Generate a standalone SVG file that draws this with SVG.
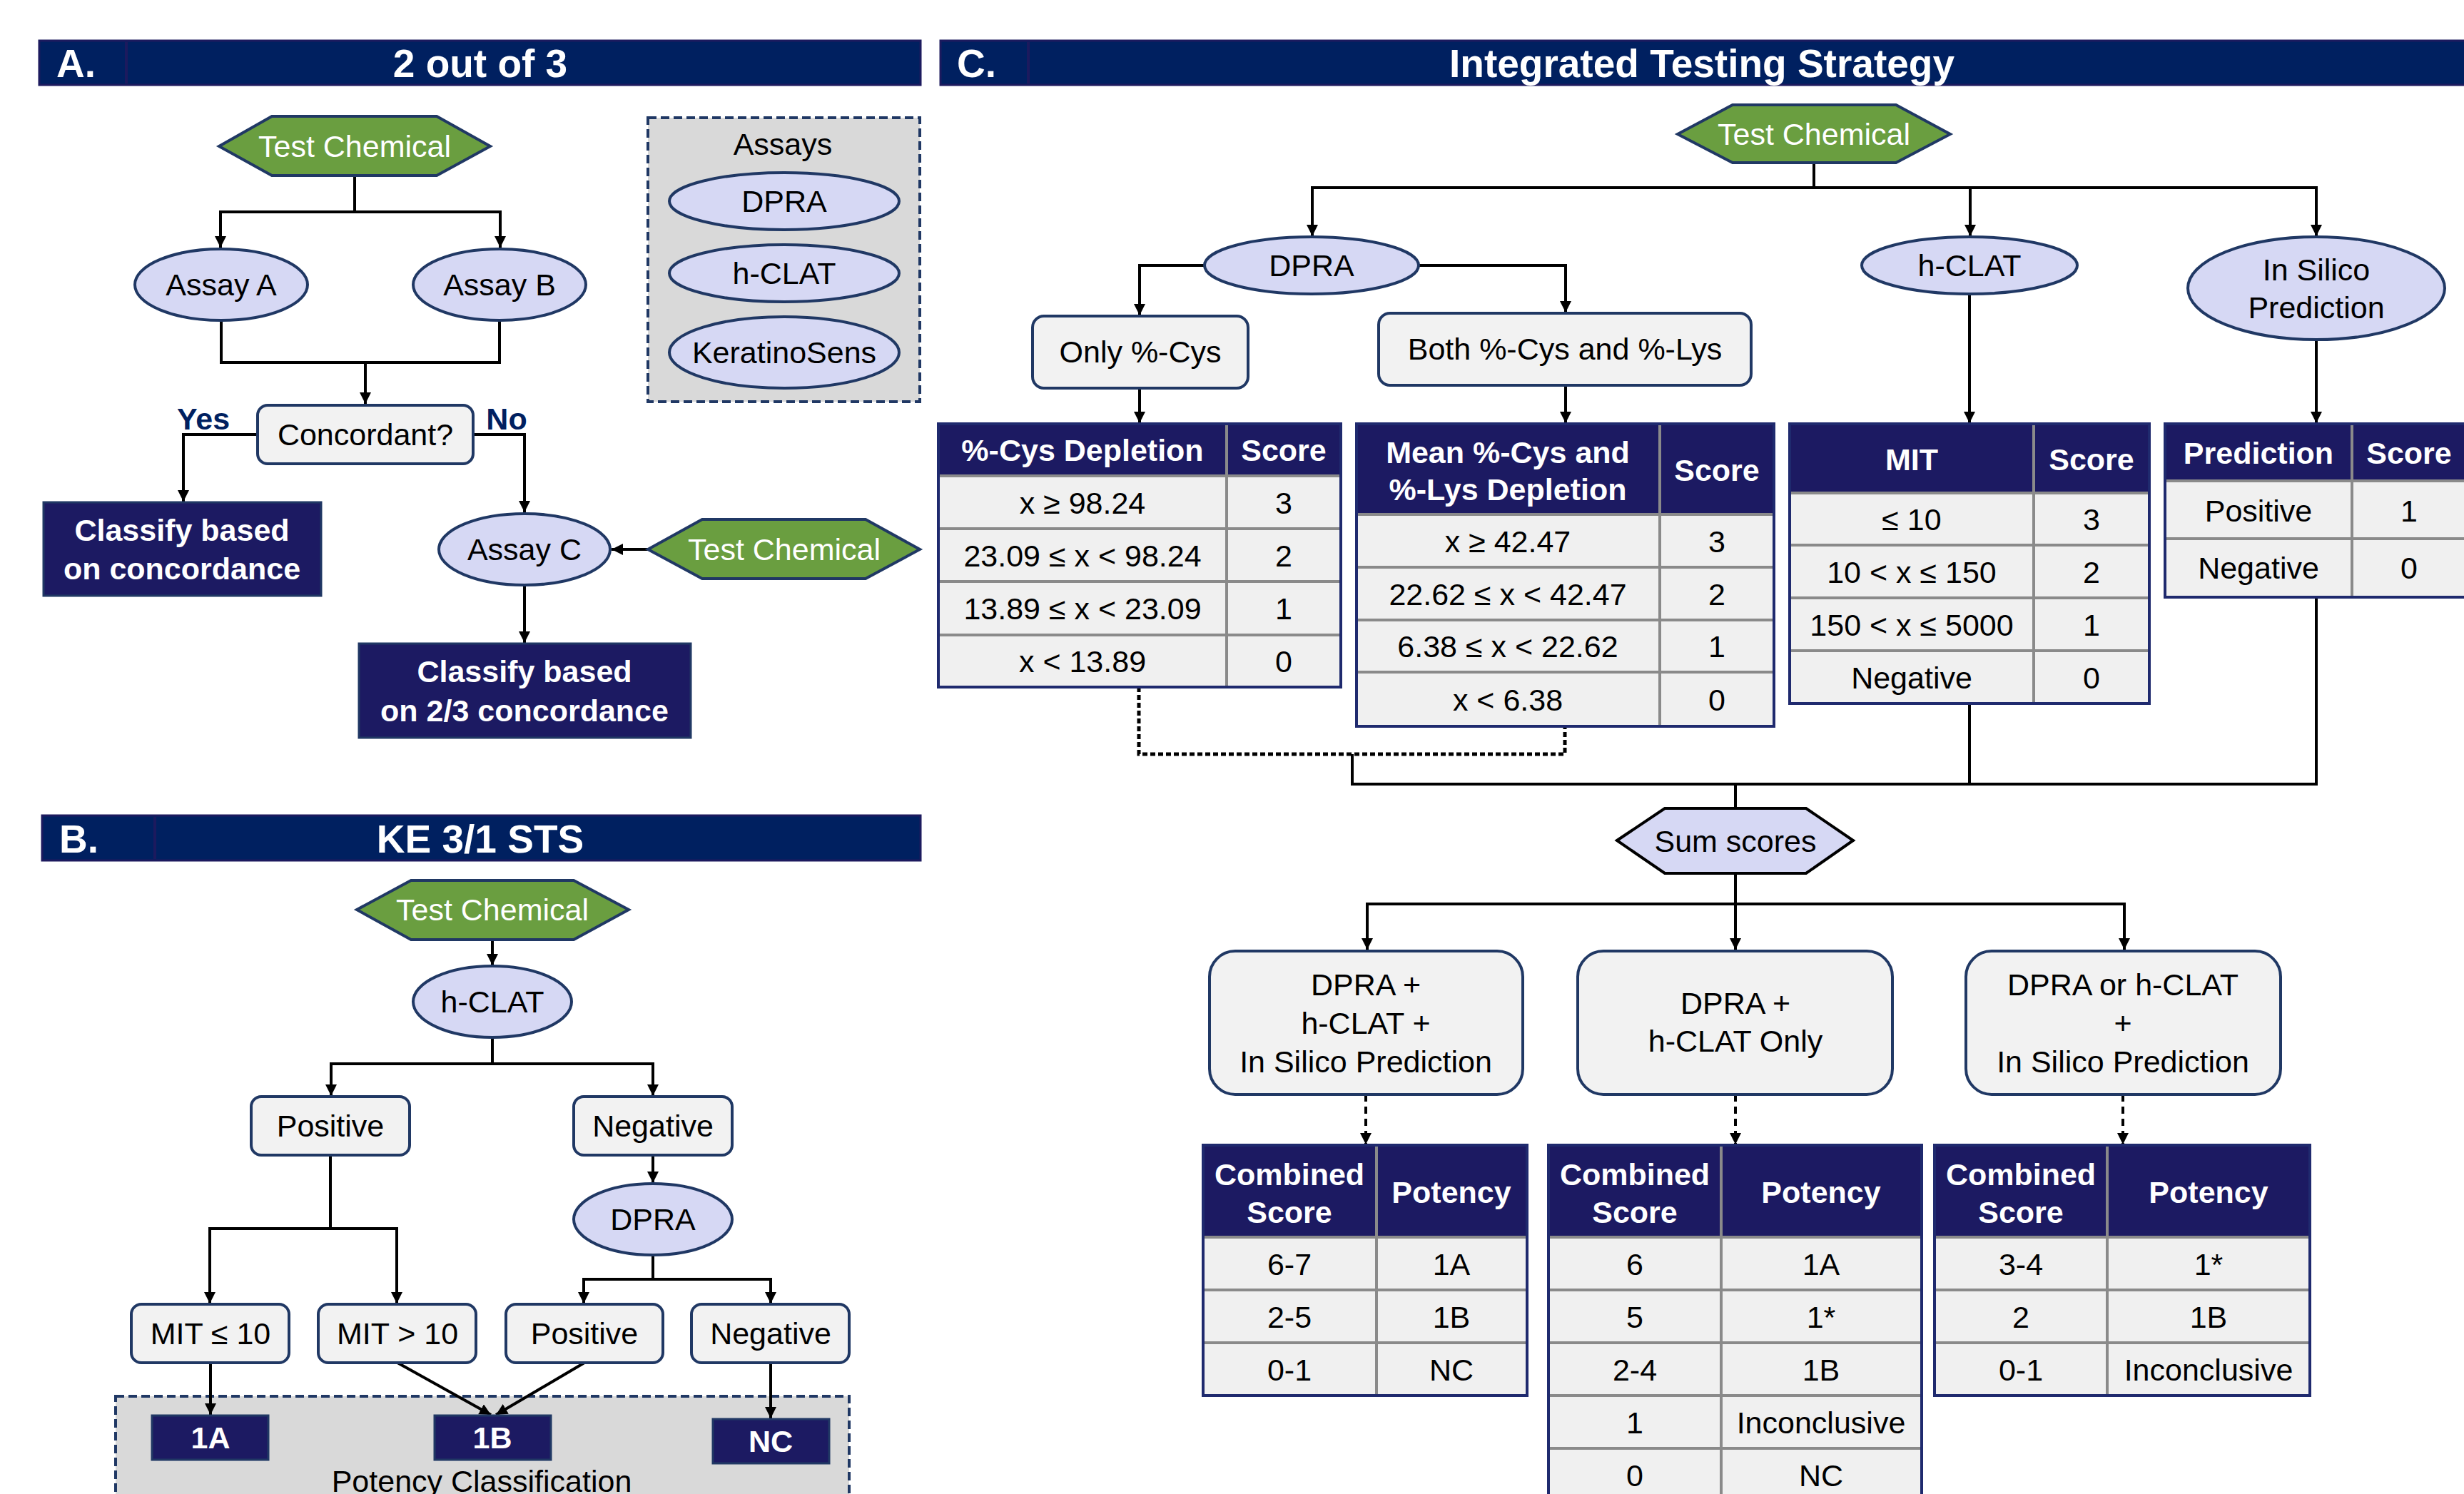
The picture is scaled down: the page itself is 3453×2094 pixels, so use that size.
<svg xmlns="http://www.w3.org/2000/svg" width="3453" height="2094" viewBox="0 0 3453 2094">
<defs>
<marker id="ah" markerUnits="userSpaceOnUse" markerWidth="18" markerHeight="18" refX="16" refY="8" orient="auto"><path d="M0,0 L16,8 L0,16 z" fill="#000"/></marker>
<style>
text{font-family:"Liberation Sans",Arial,sans-serif;font-size:43px;text-anchor:middle;fill:#000}
.w{fill:#fff}
.b{font-weight:bold}
.hd{font-size:55px;font-weight:bold;fill:#fff}
.lbl{text-anchor:start}
.yn{font-weight:bold;fill:#002060}
.bar{fill:#002060;stroke:#1c1a5e;stroke-width:3}
.sep{stroke:#1c1a5e;stroke-width:4}
.hex{fill:#6a9e40;stroke:#203864;stroke-width:4}
.hexs{fill:#d6d8f4;stroke:#000;stroke-width:4}
.ell{fill:#d6d8f4;stroke:#203864;stroke-width:4}
.box{fill:#f2f2f2;stroke:#203864;stroke-width:4}
.dark{fill:#1c1a62;stroke:#203864;stroke-width:3}
.cont{fill:#d9d9d9;stroke:#203864;stroke-width:4;stroke-dasharray:12 6}
.ln{fill:none;stroke:#000;stroke-width:4}
.ar{marker-end:url(#ah)}
.dot{stroke-width:5;stroke-dasharray:7 4}
.dsh{stroke-dasharray:10 7}
.tb{fill:#f0f0f0}
.th{fill:#1c1a62}
.grid{fill:none;stroke:#8a8a8a;stroke-width:4}
.tbord{fill:none;stroke:#1f2a6e;stroke-width:4}
</style>
</defs>
<rect width="3453" height="2094" fill="#fff"/>

<!-- Headers -->
<g id="header-A"><rect class="bar" x="55" y="57" width="1235" height="62"/><line class="sep" x1="177" y1="59" x2="177" y2="117"/><text class="hd lbl" x="79" y="108">A.</text><text class="hd" x="673" y="108">2 out of 3</text></g>
<g id="header-B"><rect class="bar" x="59" y="1143" width="1231" height="63"/><line class="sep" x1="217" y1="1145" x2="217" y2="1204"/><text class="hd lbl" x="83" y="1195">B.</text><text class="hd" x="673" y="1195">KE 3/1 STS</text></g>
<g id="header-C"><rect class="bar" x="1318" y="57" width="2145" height="62"/><line class="sep" x1="1441" y1="59" x2="1441" y2="117"/><text class="hd lbl" x="1341" y="108">C.</text><text class="hd" x="2385" y="108">Integrated Testing Strategy</text></g>

<!-- Containers -->
<g id="assays-legend">
<rect class="cont" x="908" y="165" width="381" height="398"/>
<text x="1097" y="217">Assays</text>
<ellipse class="ell" cx="1099" cy="282" rx="161" ry="40"/><text x="1099" y="297">DPRA</text>
<ellipse class="ell" cx="1099" cy="383" rx="161" ry="40"/><text x="1099" y="398">h-CLAT</text>
<ellipse class="ell" cx="1099" cy="494" rx="161" ry="50"/><text x="1099" y="509">KeratinoSens</text>
</g>
<g id="potency-classification">
<rect class="cont" x="162" y="1957" width="1028" height="200"/>
<text x="675" y="2091">Potency  Classification</text>
</g>

<!-- Connectors -->
<g id="connectors">
<path class="ln ar" d="M497,246 V297 H309 V347"/>
<path class="ln ar" d="M497,297 H701 V347"/>
<path class="ln" d="M310,449 V508 H700 V449"/>
<path class="ln ar" d="M512,508 V566"/>
<path class="ln ar" d="M361,609 H257 V703"/>
<path class="ln ar" d="M663,609 H735 V718"/>
<path class="ln ar" d="M908,770 H857"/>
<path class="ln ar" d="M735,820 V901"/>
<path class="ln ar" d="M690,1317 V1353"/>
<path class="ln ar" d="M690,1455 V1491 H464 V1536"/>
<path class="ln ar" d="M690,1491 H915 V1536"/>
<path class="ln ar" d="M463,1619 V1722 H294 V1827"/>
<path class="ln ar" d="M463,1722 H556 V1827"/>
<path class="ln ar" d="M915,1619 V1658"/>
<path class="ln ar" d="M915,1759 V1793 H818 V1827"/>
<path class="ln ar" d="M915,1793 H1080 V1827"/>
<path class="ln ar" d="M295,1910 V1983"/>
<path class="ln ar" d="M557,1910 L688,1983"/>
<path class="ln ar" d="M819,1910 L695,1983"/>
<path class="ln ar" d="M1080,1910 V1988"/>
<path class="ln ar" d="M2542,228 V263 H1839 V331"/>
<path class="ln ar" d="M2542,263 H3246 V331"/>
<path class="ln ar" d="M2761,263 V331"/>
<path class="ln ar" d="M1688,372 H1597 V442"/>
<path class="ln ar" d="M1988,372 H2194 V438"/>
<path class="ln ar" d="M1597,544 V593"/>
<path class="ln ar" d="M2194,540 V593"/>
<path class="ln ar" d="M2760,412 V593"/>
<path class="ln ar" d="M3246,476 V593"/>
<path class="ln dot" d="M1596,963 V1057 H2193 V1018"/>
<path class="ln" d="M1895,1057 V1099 H3246 V837"/>
<path class="ln" d="M2760,986 V1099"/>
<path class="ln" d="M2432,1099 V1133"/>
<path class="ln ar" d="M2432,1224 V1267 H1916 V1331"/>
<path class="ln ar" d="M2432,1267 H2977 V1331"/>
<path class="ln ar" d="M2432,1267 V1331"/>
<path class="ln dsh ar" d="M1914,1534 V1604"/>
<path class="ln dsh ar" d="M2432,1534 V1604"/>
<path class="ln dsh ar" d="M2975,1534 V1604"/>
</g>

<!-- Panel A nodes -->
<g id="A-test-chemical"><polygon class="hex" points="307,205 381,163 612,163 687,205 612,246 381,246"/><text class="w" x="497" y="220">Test Chemical</text></g>
<g id="A-assay-a"><ellipse class="ell" cx="310" cy="399" rx="121" ry="50"/><text x="310" y="414">Assay A</text></g>
<g id="A-assay-b"><ellipse class="ell" cx="700" cy="399" rx="121" ry="50"/><text x="700" y="414">Assay B</text></g>
<g id="A-concordant"><rect class="box" x="361" y="568" width="302" height="82" rx="14"/><text x="512" y="624">Concordant?</text></g>
<g id="A-yes"><text class="yn" x="285" y="602">Yes</text></g>
<g id="A-no"><text class="yn" x="710" y="602">No</text></g>
<g id="A-classify-concordance"><rect class="dark" x="61" y="704" width="389" height="131"/><text class="w b" x="255" y="758">Classify based</text><text class="w b" x="255" y="812">on concordance</text></g>
<g id="A-assay-c"><ellipse class="ell" cx="735" cy="770" rx="120" ry="50"/><text x="735" y="785">Assay C</text></g>
<g id="A-test-chemical-2"><polygon class="hex" points="908,770 984,728 1213,728 1289,770 1213,811 984,811"/><text class="w" x="1099" y="785">Test Chemical</text></g>
<g id="A-classify-23"><rect class="dark" x="503" y="902" width="465" height="132"/><text class="w b" x="735" y="956">Classify based</text><text class="w b" x="735" y="1011">on 2/3 concordance</text></g>

<!-- Panel B nodes -->
<g id="B-test-chemical"><polygon class="hex" points="500,1275 576,1234 804,1234 881,1275 804,1317 576,1317"/><text class="w" x="690" y="1290">Test Chemical</text></g>
<g id="B-hclat"><ellipse class="ell" cx="690" cy="1404" rx="111" ry="50"/><text x="690" y="1419">h-CLAT</text></g>
<g id="B-positive"><rect class="box" x="352" y="1537" width="222" height="82" rx="14"/><text x="463" y="1593">Positive</text></g>
<g id="B-negative"><rect class="box" x="804" y="1537" width="222" height="82" rx="14"/><text x="915" y="1593">Negative</text></g>
<g id="B-dpra"><ellipse class="ell" cx="915" cy="1709" rx="111" ry="50"/><text x="915" y="1724">DPRA</text></g>
<g id="B-mit-le10"><rect class="box" x="184" y="1828" width="221" height="82" rx="14"/><text x="295" y="1884">MIT ≤ 10</text></g>
<g id="B-mit-gt10"><rect class="box" x="446" y="1828" width="221" height="82" rx="14"/><text x="557" y="1884">MIT &gt; 10</text></g>
<g id="B-dpra-positive"><rect class="box" x="709" y="1828" width="220" height="82" rx="14"/><text x="819" y="1884">Positive</text></g>
<g id="B-dpra-negative"><rect class="box" x="969" y="1828" width="221" height="82" rx="14"/><text x="1080" y="1884">Negative</text></g>
<g id="B-1A"><rect class="dark" x="213" y="1984" width="163" height="62"/><text class="w b" x="295" y="2030">1A</text></g>
<g id="B-1B"><rect class="dark" x="609" y="1984" width="163" height="62"/><text class="w b" x="690" y="2030">1B</text></g>
<g id="B-NC"><rect class="dark" x="999" y="1989" width="163" height="62"/><text class="w b" x="1080" y="2035">NC</text></g>

<!-- Panel C nodes -->
<g id="C-test-chemical"><polygon class="hex" points="2351,188 2428,147 2657,147 2733,188 2657,228 2428,228"/><text class="w" x="2542" y="203">Test Chemical</text></g>
<g id="C-dpra"><ellipse class="ell" cx="1838" cy="372" rx="150" ry="40"/><text x="1838" y="387">DPRA</text></g>
<g id="C-hclat"><ellipse class="ell" cx="2760" cy="372" rx="151" ry="40"/><text x="2760" y="387">h-CLAT</text></g>
<g id="C-insilico"><ellipse class="ell" cx="3246" cy="404" rx="180" ry="72"/><text x="3246" y="393">In Silico</text><text x="3246" y="446">Prediction</text></g>
<g id="C-only-cys"><rect class="box" x="1447" y="443" width="302" height="101" rx="16"/><text x="1598" y="508">Only  %-Cys</text></g>
<g id="C-both"><rect class="box" x="1932" y="439" width="522" height="101" rx="16"/><text x="2193" y="504">Both  %-Cys  and  %-Lys</text></g>

<g id="C-table-cys">
<rect class="tb" x="1315" y="594" width="564" height="369"/>
<rect class="th" x="1315" y="594" width="564" height="73"/>
<path class="grid" d="M1719,596 V961 M1317,667 H1877 M1317,741 H1877 M1317,815 H1877 M1317,890 H1877"/>
<rect class="tbord" x="1315" y="594" width="564" height="369"/>
<text class="w b" x="1517" y="646">%-Cys  Depletion</text><text class="w b" x="1799" y="646">Score</text>
<text x="1517" y="720">x ≥ 98.24</text><text x="1799" y="720">3</text>
<text x="1517" y="794">23.09 ≤ x &lt; 98.24</text><text x="1799" y="794">2</text>
<text x="1517" y="868">13.89 ≤ x &lt; 23.09</text><text x="1799" y="868">1</text>
<text x="1517" y="942">x &lt; 13.89</text><text x="1799" y="942">0</text>
</g>

<g id="C-table-mean">
<rect class="tb" x="1901" y="594" width="585" height="424"/>
<rect class="th" x="1901" y="594" width="585" height="127"/>
<path class="grid" d="M2326,596 V1016 M1903,721 H2484 M1903,795 H2484 M1903,869 H2484 M1903,942 H2484"/>
<rect class="tbord" x="1901" y="594" width="585" height="424"/>
<text class="w b" x="2113" y="649">Mean  %-Cys  and</text><text class="w b" x="2113" y="701">%-Lys  Depletion</text><text class="w b" x="2406" y="674">Score</text>
<text x="2113" y="774">x ≥ 42.47</text><text x="2406" y="774">3</text>
<text x="2113" y="848">22.62 ≤ x &lt; 42.47</text><text x="2406" y="848">2</text>
<text x="2113" y="921">6.38 ≤ x &lt; 22.62</text><text x="2406" y="921">1</text>
<text x="2113" y="996">x &lt; 6.38</text><text x="2406" y="996">0</text>
</g>

<g id="C-table-mit">
<rect class="tb" x="2508" y="594" width="504" height="392"/>
<rect class="th" x="2508" y="594" width="504" height="97"/>
<path class="grid" d="M2850,596 V984 M2510,691 H3010 M2510,764 H3010 M2510,838 H3010 M2510,912 H3010"/>
<rect class="tbord" x="2508" y="594" width="504" height="392"/>
<text class="w b" x="2679" y="659">MIT</text><text class="w b" x="2931" y="659">Score</text>
<text x="2679" y="743">≤ 10</text><text x="2931" y="743">3</text>
<text x="2679" y="817">10 &lt; x ≤ 150</text><text x="2931" y="817">2</text>
<text x="2679" y="891">150 &lt; x ≤ 5000</text><text x="2931" y="891">1</text>
<text x="2679" y="965">Negative</text><text x="2931" y="965">0</text>
</g>

<g id="C-table-prediction">
<rect class="tb" x="3034" y="594" width="424" height="243"/>
<rect class="th" x="3034" y="594" width="424" height="80"/>
<path class="grid" d="M3296,596 V835 M3036,674 H3458 M3036,755 H3458"/>
<rect class="tbord" x="3034" y="594" width="424" height="243"/>
<text class="w b" x="3165" y="650">Prediction</text><text class="w b" x="3376" y="650">Score</text>
<text x="3165" y="731">Positive</text><text x="3376" y="731">1</text>
<text x="3165" y="811">Negative</text><text x="3376" y="811">0</text>
</g>

<g id="C-sum-scores"><polygon class="hexs" points="2266,1178 2333,1133 2531,1133 2597,1178 2531,1224 2333,1224"/><text x="2432" y="1194">Sum scores</text></g>

<g id="C-combo-1"><rect class="box" x="1695" y="1333" width="439" height="201" rx="36"/><text x="1914" y="1395">DPRA +</text><text x="1914" y="1449">h-CLAT +</text><text x="1914" y="1503">In Silico Prediction</text></g>
<g id="C-combo-2"><rect class="box" x="2211" y="1333" width="441" height="201" rx="36"/><text x="2432" y="1421">DPRA +</text><text x="2432" y="1474">h-CLAT Only</text></g>
<g id="C-combo-3"><rect class="box" x="2755" y="1333" width="441" height="201" rx="36"/><text x="2975" y="1395">DPRA or h-CLAT</text><text x="2975" y="1449">+</text><text x="2975" y="1503">In Silico Prediction</text></g>

<g id="C-potency-table-1">
<rect class="tb" x="1686" y="1605" width="454" height="351"/>
<rect class="th" x="1686" y="1605" width="454" height="129"/>
<path class="grid" d="M1929,1607 V1954 M1688,1734 H2138 M1688,1808 H2138 M1688,1882 H2138"/>
<rect class="tbord" x="1686" y="1605" width="454" height="351"/>
<text class="w b" x="1807" y="1661">Combined</text><text class="w b" x="1807" y="1714">Score</text><text class="w b" x="2034" y="1686">Potency</text>
<text x="1807" y="1787">6-7</text><text x="2034" y="1787">1A</text>
<text x="1807" y="1861">2-5</text><text x="2034" y="1861">1B</text>
<text x="1807" y="1935">0-1</text><text x="2034" y="1935">NC</text>
</g>

<g id="C-potency-table-2">
<rect class="tb" x="2170" y="1605" width="523" height="510"/>
<rect class="th" x="2170" y="1605" width="523" height="129"/>
<path class="grid" d="M2412,1607 V2110 M2172,1734 H2691 M2172,1808 H2691 M2172,1882 H2691 M2172,1956 H2691 M2172,2030 H2691"/>
<rect class="tbord" x="2170" y="1605" width="523" height="510"/>
<text class="w b" x="2291" y="1661">Combined</text><text class="w b" x="2291" y="1714">Score</text><text class="w b" x="2552" y="1686">Potency</text>
<text x="2291" y="1787">6</text><text x="2552" y="1787">1A</text>
<text x="2291" y="1861">5</text><text x="2552" y="1861">1*</text>
<text x="2291" y="1935">2-4</text><text x="2552" y="1935">1B</text>
<text x="2291" y="2009">1</text><text x="2552" y="2009">Inconclusive</text>
<text x="2291" y="2083">0</text><text x="2552" y="2083">NC</text>
</g>

<g id="C-potency-table-3">
<rect class="tb" x="2711" y="1605" width="526" height="351"/>
<rect class="th" x="2711" y="1605" width="526" height="129"/>
<path class="grid" d="M2953,1607 V1954 M2713,1734 H3235 M2713,1808 H3235 M2713,1882 H3235"/>
<rect class="tbord" x="2711" y="1605" width="526" height="351"/>
<text class="w b" x="2832" y="1661">Combined</text><text class="w b" x="2832" y="1714">Score</text><text class="w b" x="3095" y="1686">Potency</text>
<text x="2832" y="1787">3-4</text><text x="3095" y="1787">1*</text>
<text x="2832" y="1861">2</text><text x="3095" y="1861">1B</text>
<text x="2832" y="1935">0-1</text><text x="3095" y="1935">Inconclusive</text>
</g>
</svg>
